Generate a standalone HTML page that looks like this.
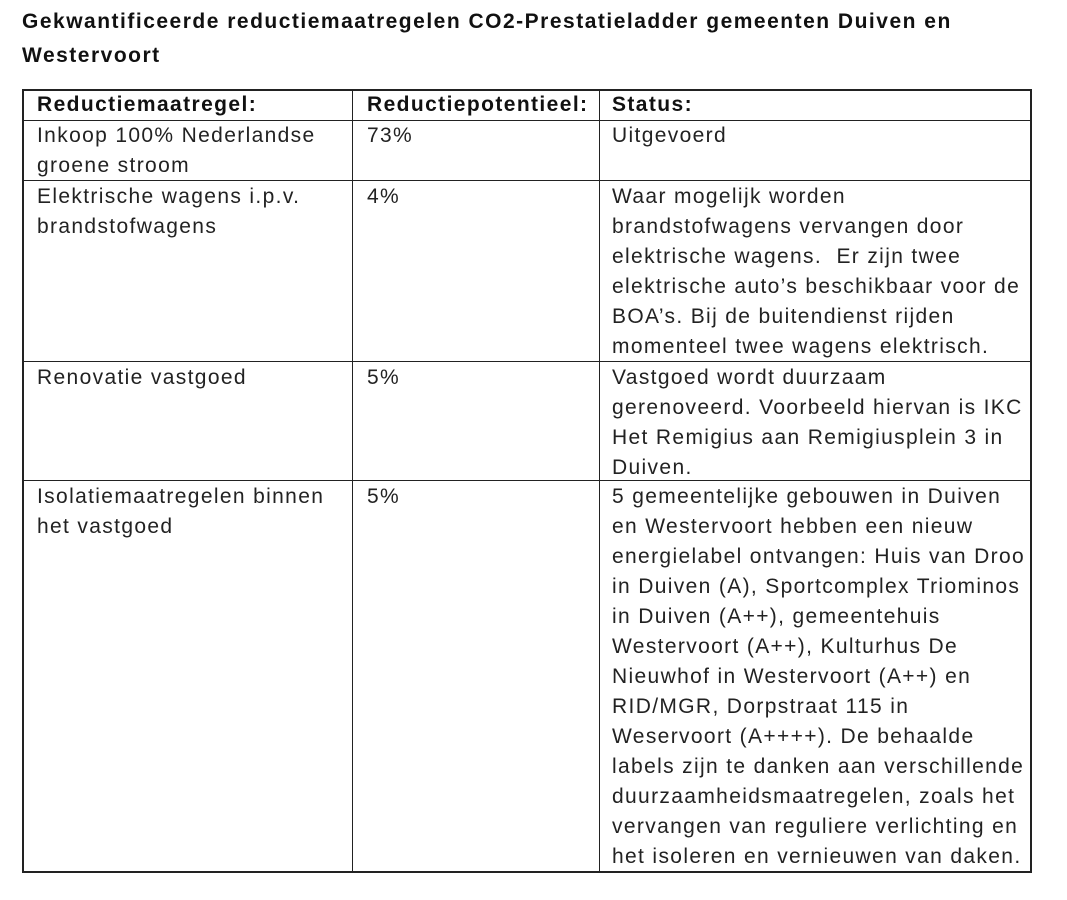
<!DOCTYPE html>
<html><head><meta charset="utf-8"><style>
body{margin:0;width:1067px;height:900px;background:#fff;position:relative;font-family:"Liberation Sans",sans-serif;color:#222;overflow:hidden}
.t{position:absolute;font-weight:bold;font-size:21px;letter-spacing:1.5px;color:#111;left:22px;line-height:34px}
.l{position:absolute;background:#222}
.c{position:absolute;font-size:21px;letter-spacing:1.35px;line-height:30px;white-space:nowrap}
.h{font-weight:bold;color:#111;letter-spacing:1.4px}
</style></head><body>
<div class="t" style="top:5px">Gekwantificeerde reductiemaatregelen CO2-Prestatieladder gemeenten Duiven en<br>Westervoort</div>
<div class="l" style="left:22px;width:1010px;top:89px;height:2px"></div>
<div class="l" style="left:22px;width:1010px;top:120px;height:1px"></div>
<div class="l" style="left:22px;width:1010px;top:180px;height:1px"></div>
<div class="l" style="left:22px;width:1010px;top:361px;height:1px"></div>
<div class="l" style="left:22px;width:1010px;top:480px;height:1px"></div>
<div class="l" style="left:22px;width:1010px;top:871px;height:2px"></div>
<div class="l" style="left:22px;width:2px;top:89px;height:784px"></div>
<div class="l" style="left:352px;width:1px;top:89px;height:784px"></div>
<div class="l" style="left:599px;width:1px;top:89px;height:784px"></div>
<div class="l" style="left:1030px;width:2px;top:89px;height:784px"></div>

<div class="c h" style="left:37px;top:90px">Reductiemaatregel:</div>
<div class="c h" style="left:367px;top:90px">Reductiepotentieel:</div>
<div class="c h" style="left:612px;top:90px">Status:</div>

<div class="c" style="left:37px;top:121px">Inkoop 100% Nederlandse<br>groene stroom</div>
<div class="c" style="left:367px;top:121px">73%</div>
<div class="c" style="left:612px;top:121px">Uitgevoerd</div>

<div class="c" style="left:37px;top:182px">Elektrische wagens i.p.v.<br>brandstofwagens</div>
<div class="c" style="left:367px;top:182px">4%</div>
<div class="c" style="left:612px;top:182px">Waar mogelijk worden<br>brandstofwagens vervangen door<br>elektrische wagens.&nbsp; Er zijn twee<br>elektrische auto’s beschikbaar voor de<br>BOA’s. Bij de buitendienst rijden<br>momenteel twee wagens elektrisch.</div>

<div class="c" style="left:37px;top:363px">Renovatie vastgoed</div>
<div class="c" style="left:367px;top:363px">5%</div>
<div class="c" style="left:612px;top:363px">Vastgoed wordt duurzaam<br>gerenoveerd. Voorbeeld hiervan is IKC<br>Het Remigius aan Remigiusplein 3 in<br>Duiven.</div>

<div class="c" style="left:37px;top:482px">Isolatiemaatregelen binnen<br>het vastgoed</div>
<div class="c" style="left:367px;top:482px">5%</div>
<div class="c" style="left:612px;top:482px">5 gemeentelijke gebouwen in Duiven<br>en Westervoort hebben een nieuw<br>energielabel ontvangen: Huis van Droo<br>in Duiven (A), Sportcomplex Triominos<br>in Duiven (A++), gemeentehuis<br>Westervoort (A++), Kulturhus De<br>Nieuwhof in Westervoort (A++) en<br>RID/MGR, Dorpstraat 115 in<br>Weservoort (A++++). De behaalde<br>labels zijn te danken aan verschillende<br>duurzaamheidsmaatregelen, zoals het<br>vervangen van reguliere verlichting en<br>het isoleren en vernieuwen van daken.</div>
</body></html>
